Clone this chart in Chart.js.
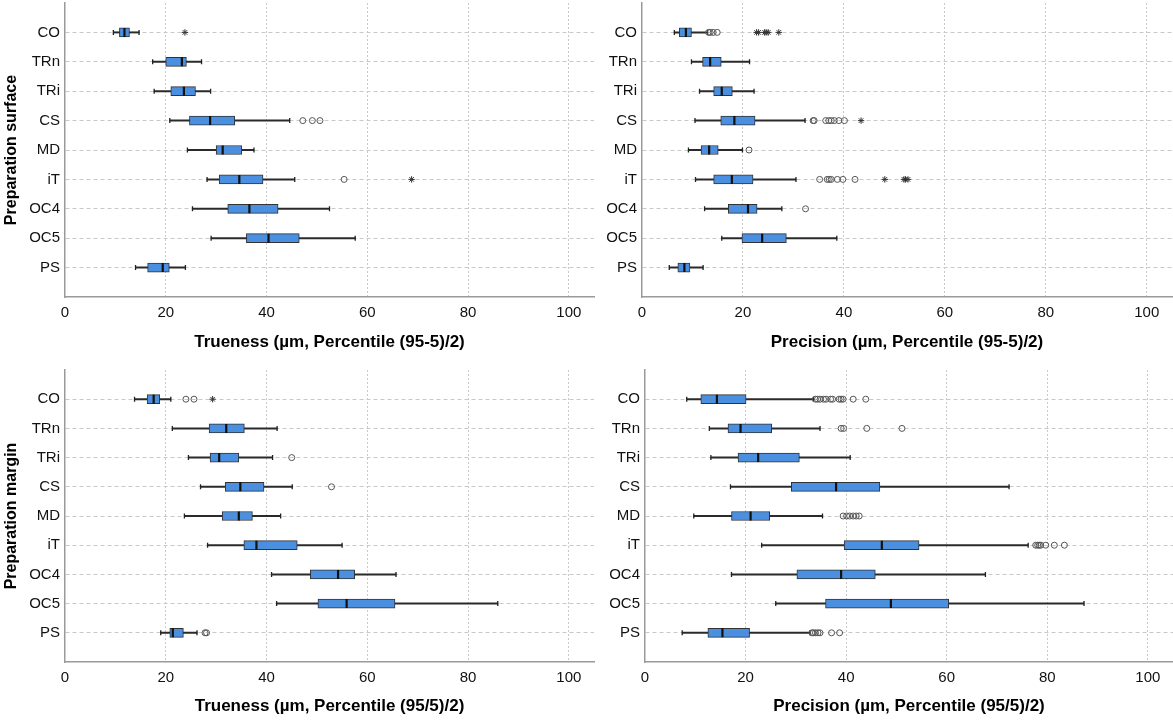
<!DOCTYPE html>
<html>
<head>
<meta charset="utf-8">
<script src="https://cdn.jsdelivr.net/npm/chart.js@4.4.0/dist/chart.umd.min.js"></script>
<style>
body{margin:0;background:#fff;width:1173px;height:720px;overflow:hidden;position:relative}
.panel{position:absolute}
</style>
</head>
<body>
<div class="panel" style="left:0;top:0;width:600px;height:360px"><canvas id="c1"></canvas></div>
<div class="panel" style="left:600px;top:0;width:573px;height:360px"><canvas id="c2"></canvas></div>
<div class="panel" style="left:0;top:360px;width:600px;height:360px"><canvas id="c3"></canvas></div>
<div class="panel" style="left:600px;top:360px;width:573px;height:360px"><canvas id="c4"></canvas></div>
<script>
// groups, top to bottom
var cats = ['CO','TRn','TRi','CS','MD','iT','OC4','OC5','PS'];
var ticksX = [0, 20, 40, 60, 80, 100];

// Preparation surface - Trueness
var sTrueMin = [9.6, 17.4, 17.7, 20.8, 24.3, 28.2, 25.3, 29.0, 14.0];
var sTrueQ1  = [10.8, 20.0, 21.0, 24.7, 30.0, 30.6, 32.3, 36.0, 16.4];
var sTrueMed = [11.8, 23.2, 23.6, 28.8, 31.3, 34.6, 36.6, 40.4, 19.4];
var sTrueQ3  = [12.8, 24.1, 25.9, 33.7, 35.1, 39.3, 42.3, 46.5, 20.7];
var sTrueMax = [14.7, 27.1, 28.9, 44.6, 37.5, 45.6, 52.5, 57.6, 23.9];
var sTrueOut = [[], [], [], [47.2, 49.1, 50.6], [], [55.4], [], [], []];
var sTrueExt = [[23.8], [], [], [], [], [68.8], [], [], []];

// Preparation surface - Precision
var sPrecMin = [6.4, 9.8, 11.4, 10.5, 9.2, 10.6, 12.4, 15.8, 5.4];
var sPrecQ1  = [7.4, 12.0, 14.2, 15.6, 11.7, 14.2, 17.1, 19.8, 7.1];
var sPrecMed = [8.7, 13.5, 15.8, 18.3, 13.3, 17.8, 21.0, 23.8, 8.4];
var sPrecQ3  = [9.8, 15.7, 17.9, 22.4, 15.1, 22.0, 22.8, 28.6, 9.5];
var sPrecMax = [13.0, 21.3, 22.2, 32.3, 19.9, 30.5, 27.7, 38.6, 12.1];
var sPrecOut = [[13.2, 13.5, 14.1, 14.9], [], [], [33.9, 34.1, 36.4, 37.0, 37.5, 38.1, 39.0, 40.1], [21.2],
                [35.2, 36.7, 37.1, 37.5, 38.7, 39.8, 42.2], [32.4], [], []];
var sPrecExt = [[22.7, 23.1, 24.3, 24.6, 25.0, 27.1], [], [], [43.4], [], [48.1, 51.9, 52.2, 52.7], [], [], []];

// Preparation margin - Trueness
var mTrueMin = [13.8, 21.3, 24.5, 26.9, 23.7, 28.3, 41.0, 42.0, 19.0];
var mTrueQ1  = [16.3, 28.6, 28.8, 31.8, 31.2, 35.5, 48.7, 50.2, 20.8];
var mTrueMed = [17.6, 32.0, 30.6, 34.8, 34.5, 38.0, 54.2, 55.9, 21.4];
var mTrueQ3  = [18.8, 35.6, 34.5, 39.5, 37.2, 46.1, 57.5, 65.5, 23.5];
var mTrueMax = [21.0, 42.1, 41.2, 45.1, 42.8, 55.0, 65.7, 85.9, 26.2];
var mTrueOut = [[24.0, 25.6], [], [45.0], [52.9], [], [], [], [], [27.8, 28.1]];
var mTrueExt = [[29.3], [], [], [], [], [], [], [], []];

// Preparation margin - Precision
var mPrecMin = [8.3, 12.8, 13.1, 17.0, 9.7, 23.2, 17.2, 26.0, 7.4];
var mPrecQ1  = [11.1, 16.5, 18.5, 29.1, 17.2, 39.6, 30.2, 35.9, 12.5];
var mPrecMed = [14.3, 19.0, 22.5, 38.0, 21.0, 47.1, 39.0, 48.9, 15.4];
var mPrecQ3  = [20.1, 25.2, 30.7, 46.7, 24.8, 54.5, 45.8, 60.4, 20.8];
var mPrecMax = [33.5, 34.8, 40.8, 72.4, 35.3, 76.2, 67.7, 87.3, 32.8];
var mPrecOut = [[33.9, 34.3, 34.8, 35.5, 36.0, 36.9, 37.3, 38.6, 39.0, 39.4, 41.4, 43.9], [39.0, 39.5, 44.1, 51.1], [], [],
                [39.4, 40.1, 40.7, 41.4, 42.0, 42.6], [77.7, 78.1, 78.4, 78.7, 79.7, 81.4, 83.4], [], [],
                [33.2, 33.5, 33.9, 34.4, 34.8, 37.1, 38.7]];
var mPrecExt = [[], [], [], [], [], [], [], [], []];

Chart.defaults.font.family = '"Liberation Sans", Arial, sans-serif';
Chart.defaults.animation = false;

var rows = [''].concat(cats, ['']);
var gridGray = '#c9c9c9';

function pts(list) {
	var out = [];
	for (var i = 0; i < list.length; i++) {
		for (var j = 0; j < list[i].length; j++) {
			out.push({x: list[i][j], y: cats[i]});
		}
	}
	return out;
}

function boxPlot(id, d, p) {
	var whisk = rows.map(function(r, i){ return (i == 0 || i == rows.length - 1) ? null : [d.min[i-1], d.max[i-1]]; });
	var boxes = rows.map(function(r, i){ return (i == 0 || i == rows.length - 1) ? null : [d.q1[i-1], d.q3[i-1]]; });
	var caps = [];
	for (var i = 0; i < cats.length; i++) {
		caps.push({x: d.min[i], y: cats[i]});
		caps.push({x: d.max[i], y: cats[i]});
	}
	var meds = cats.map(function(c, i){ return {x: d.med[i], y: c}; });

	var data = {
		labels: rows,
		datasets: [
			{ type: 'line', data: pts(d.ext), showLine: false, pointStyle: 'star', radius: 3.2, borderColor: '#333', borderWidth: 1, order: 0 },
			{ type: 'line', data: pts(d.out), showLine: false, pointStyle: 'circle', radius: 3, borderColor: '#555', backgroundColor: 'rgba(255,255,255,0)', borderWidth: 1, order: 1 },
			{ type: 'line', data: meds, showLine: false, pointStyle: 'line', rotation: 90, radius: 4.5, borderColor: '#111', borderWidth: 2.2, order: 2 },
			{ type: 'line', data: caps, showLine: false, pointStyle: 'line', rotation: 90, radius: 2.5, borderColor: '#222', borderWidth: 1.3, order: 3 },
			{ type: 'bar', data: boxes, barThickness: 9, backgroundColor: '#4a8fe0', borderColor: '#333', borderWidth: 1, borderSkipped: false, grouped: false, order: 4 },
			{ type: 'bar', data: whisk, barThickness: 1.3, backgroundColor: '#2a2a2a', grouped: false, order: 5 }
		]
	};

	var config = {
		type: 'bar',
		data: data,
		options: {
			indexAxis: 'y',
			responsive: true,
			maintainAspectRatio: false,
			layout: { autoPadding: false, padding: { top: p.padTop, right: p.padRight, bottom: 0, left: 0 } },
			plugins: { legend: { display: false }, tooltip: { enabled: false } },
			scales: {
				y: {
					type: 'category',
					offset: false,
					grid: {
						offset: false,
						color: function(c){ return (c.index == 0 || c.index == rows.length - 1) ? 'rgba(0,0,0,0)' : gridGray; },
						drawTicks: false
					},
					border: { color: '#9a9a9a', width: 1.5, dash: [4, 3] },
					ticks: { autoSkip: false, padding: 5, color: '#111', font: { size: 15 } },
					title: { display: !!p.yTitle, text: p.yTitle, color: '#000', font: { size: 16, weight: 'bold' }, padding: { top: 2, bottom: 0 } },
					afterFit: function(s){ s.width = p.yWidth; s.paddingTop = 0; s.paddingBottom = 0; }
				},
				x: {
					type: 'linear',
					min: 0,
					max: 105,
					afterBuildTicks: function(s){ s.ticks = ticksX.map(function(v){ return {value: v}; }); },
					grid: {
						color: function(c){ return (c.tick && c.tick.value == 0) ? 'rgba(0,0,0,0)' : gridGray; },
						drawTicks: false
					},
					border: { color: '#9a9a9a', width: 1.5, dash: [2, 2] },
					ticks: { padding: 7, color: '#111', font: { size: 15 } },
					title: { display: true, text: p.xTitle, color: '#000', font: { size: 17, weight: 'bold' }, padding: { top: 0, bottom: p.titlePad } },
					afterFit: function(s){ s.height = p.xHeight; s.paddingRight = 0; }
				}
			}
		}
	};
	return new Chart(document.getElementById(id), config);
}

boxPlot('c1', {min: sTrueMin, q1: sTrueQ1, med: sTrueMed, q3: sTrueQ3, max: sTrueMax, out: sTrueOut, ext: sTrueExt},
	{padTop: 3, padRight: 6, yWidth: 65, xHeight: 63, titlePad: 7, yTitle: 'Preparation surface', xTitle: 'Trueness (µm, Percentile (95-5)/2)'});
boxPlot('c2', {min: sPrecMin, q1: sPrecQ1, med: sPrecMed, q3: sPrecQ3, max: sPrecMax, out: sPrecOut, ext: sPrecExt},
	{padTop: 3, padRight: 1, yWidth: 42, xHeight: 63, titlePad: 7, yTitle: '', xTitle: 'Precision (µm, Percentile (95-5)/2)'});
boxPlot('c3', {min: mTrueMin, q1: mTrueQ1, med: mTrueMed, q3: mTrueQ3, max: mTrueMax, out: mTrueOut, ext: mTrueExt},
	{padTop: 10, padRight: 6, yWidth: 65, xHeight: 58, titlePad: 3, yTitle: 'Preparation margin', xTitle: 'Trueness (µm, Percentile (95/5)/2)'});
boxPlot('c4', {min: mPrecMin, q1: mPrecQ1, med: mPrecMed, q3: mPrecQ3, max: mPrecMax, out: mPrecOut, ext: mPrecExt},
	{padTop: 10, padRight: 0, yWidth: 45, xHeight: 58, titlePad: 3, yTitle: '', xTitle: 'Precision (µm, Percentile (95/5)/2)'});
</script>
</body>
</html>
